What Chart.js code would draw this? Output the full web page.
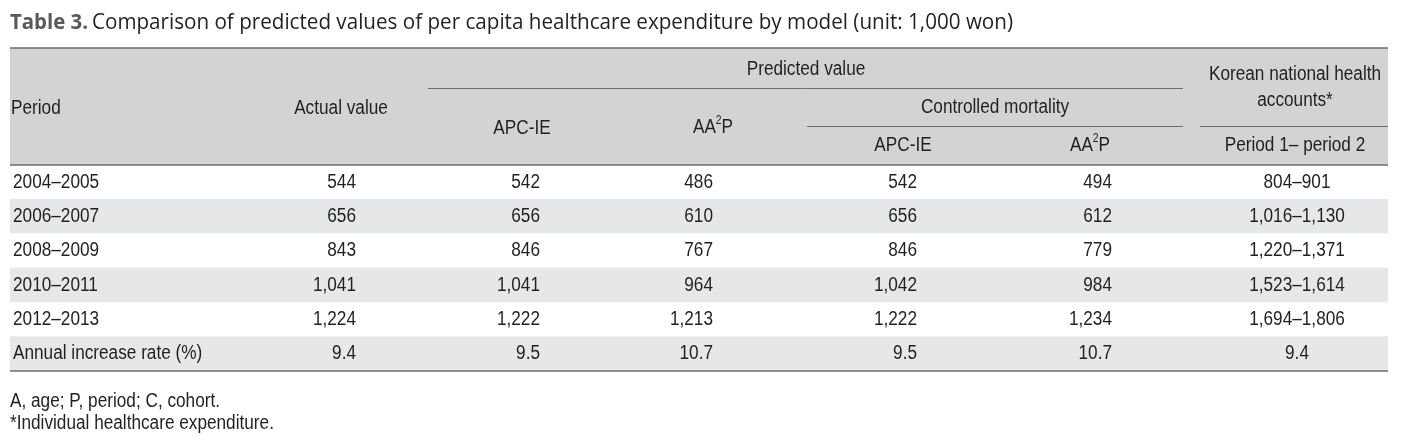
<!DOCTYPE html>
<html>
<head>
<meta charset="utf-8">
<script src="https://cdn.jsdelivr.net/npm/chart.js@4.4.1/dist/chart.umd.min.js"></script>
<style>
  html, body { margin: 0; padding: 0; background: #fff; }
  canvas { display: block; }
</style>
</head>
<body>
<canvas id="tabela" width="1408" height="443"></canvas>
<script>
// dados da tabela
const periods = ['2004–2005', '2006–2007', '2008–2009', '2010–2011', '2012–2013'];
const rateLabel = 'Annual increase rate (%)';
const actualValue = [544, 656, 843, 1041, 1224];
const apcIE = [542, 656, 846, 1041, 1222];
const aa2p = [486, 610, 767, 964, 1213];
const cmApcIE = [542, 656, 846, 1042, 1222];
const cmAa2p = [494, 612, 779, 984, 1234];
const nhaLow = [804, 1016, 1220, 1523, 1694];
const nhaHigh = [901, 1130, 1371, 1614, 1806];
const annualRate = [9.4, 9.5, 10.7, 9.5, 10.7, 9.4];

const titleBold = 'Table 3.';
const titleText = 'Comparison of predicted values of per capita healthcare expenditure by model (unit: 1,000 won)';
const footnotes = ['A, age; P, period; C, cohort.', '*Individual healthcare expenditure.'];

const rowLabels = [...periods, rateLabel];

// estilo
const FONT = '"Liberation Sans", Arial, sans-serif';
const FS = 20;       // tamanho da fonte da tabela
const SX = 0.86;     // compressão horizontal (fonte condensada)
const TEXT = '#231f20';
const LINE = '#6d6e71';
const HEAD_BG = '#d1d3d4';
const STRIPE = '#e6e7e8';

const fmt = v => v.toLocaleString('en-US');

// texto condensado
function txt(ctx, s, x, y, align, size) {
    ctx.save();
    ctx.font = (size || FS) + 'px ' + FONT;
    ctx.translate(x, y);
    ctx.scale(SX, 1);
    ctx.textAlign = align || 'left';
    ctx.textBaseline = 'middle';
    ctx.fillText(s, 0, 0);
    ctx.restore();
}

function largura(ctx, s, size) {
    ctx.save();
    ctx.font = (size || FS) + 'px ' + FONT;
    const w = ctx.measureText(s).width * SX;
    ctx.restore();
    return w;
}

function aa2pText(ctx, x, y) {
    // AA²P com o 2 sobrescrito
    const small = Math.round(FS * 0.6);
    const wA = largura(ctx, 'AA');
    const w2 = largura(ctx, '2', small);
    const wP = largura(ctx, 'P');
    const x0 = x - (wA + w2 + wP) / 2;
    txt(ctx, 'AA', x0, y);
    txt(ctx, '2', x0 + wA, y - FS * 0.3, 'left', small);
    txt(ctx, 'P', x0 + wA + w2, y);
}

const tabelaPlugin = {
    id: 'tabela',
    beforeDatasetsDraw(chart) {
        const ctx = chart.ctx;
        const area = chart.chartArea;
        ctx.save();
        // fundo do cabeçalho
        ctx.fillStyle = HEAD_BG;
        ctx.fillRect(area.left, 48, area.right - area.left, area.top - 48);
        ctx.restore();
    },
    afterDraw(chart) {
        const ctx = chart.ctx;
        const area = chart.chartArea;
        const y = chart.scales.y;
        const L = area.left, R = area.right;
        ctx.save();

        // título (ajustado à largura da figura)
        ctx.textBaseline = 'alphabetic';
        ctx.textAlign = 'left';
        ctx.fillStyle = '#58595b';
        ctx.font = 'bold 21px "Open Sans", sans-serif';
        const wb = ctx.measureText(titleBold).width;
        ctx.save();
        ctx.translate(10, 29);
        ctx.scale(78 / wb, 1);
        ctx.fillText(titleBold, 0, 0);
        ctx.restore();
        ctx.fillStyle = TEXT;
        ctx.font = '21px "Open Sans", sans-serif';
        const wt = ctx.measureText(titleText).width;
        ctx.save();
        ctx.translate(92, 29);
        ctx.scale(921 / wt, 1);
        ctx.fillText(titleText, 0, 0);
        ctx.restore();

        // linhas
        ctx.strokeStyle = LINE;
        ctx.lineWidth = 1.5;
        ctx.beginPath();
        ctx.moveTo(L, 48); ctx.lineTo(R, 48);
        ctx.moveTo(L, area.top); ctx.lineTo(R, area.top);
        ctx.moveTo(L, area.bottom); ctx.lineTo(R, area.bottom);
        ctx.stroke();
        ctx.lineWidth = 1;
        ctx.beginPath();
        ctx.moveTo(428, 88.5); ctx.lineTo(1183, 88.5);
        ctx.moveTo(807, 126.5); ctx.lineTo(1183, 126.5);
        ctx.moveTo(1200, 126.5); ctx.lineTo(R, 126.5);
        ctx.stroke();

        // cabeçalho
        ctx.fillStyle = TEXT;
        txt(ctx, 'Period', 11, 108);
        txt(ctx, 'Actual value', 341, 108, 'center');
        txt(ctx, 'Predicted value', 806, 69, 'center');
        txt(ctx, 'APC-IE', 522, 128, 'center');
        txt(ctx, 'Controlled mortality', 995, 107, 'center');
        txt(ctx, 'APC-IE', 903, 145, 'center');
        txt(ctx, 'Korean national health', 1295, 74, 'center');
        txt(ctx, 'accounts*', 1295, 100, 'center');
        txt(ctx, 'Period 1– period 2', 1295, 145, 'center');
        aa2pText(ctx, 713, 127);
        aa2pText(ctx, 1090, 145);

        // células
        const rights = [356, 540, 713, 917, 1112];
        rowLabels.forEach((lab, i) => {
            const cy = y.getPixelForValue(i);
            txt(ctx, lab, 13, cy);
            const last = i === periods.length;
            const cols = last
                ? annualRate.slice(0, 5).map(v => v.toFixed(1))
                : [actualValue[i], apcIE[i], aa2p[i], cmApcIE[i], cmAa2p[i]].map(fmt);
            cols.forEach((t, j) => txt(ctx, t, rights[j], cy, 'right'));
            const nha = last ? annualRate[5].toFixed(1) : fmt(nhaLow[i]) + '–' + fmt(nhaHigh[i]);
            txt(ctx, nha, 1297, cy, 'center');
        });

        // notas de rodapé
        txt(ctx, footnotes[0], 10, 401);
        txt(ctx, footnotes[1], 10, 423);
        ctx.restore();
    }
};

new Chart(document.getElementById('tabela'), {
    type: 'bar',
    data: {
        labels: rowLabels,
        datasets: [{
            data: rowLabels.map(() => [0, 1]),
            backgroundColor: rowLabels.map((_, i) => i % 2 ? STRIPE : '#ffffff'),
            barPercentage: 1,
            categoryPercentage: 1,
            borderWidth: 0
        }]
    },
    options: {
        indexAxis: 'y',
        responsive: false,
        animation: false,
        events: [],
        layout: { padding: { left: 10, right: 20, top: 165, bottom: 72 } },
        plugins: { legend: { display: false }, tooltip: { enabled: false } },
        scales: {
            x: { type: 'linear', min: 0, max: 1, display: false },
            y: { display: false }
        }
    },
    plugins: [tabelaPlugin]
});
</script>
</body>
</html>
